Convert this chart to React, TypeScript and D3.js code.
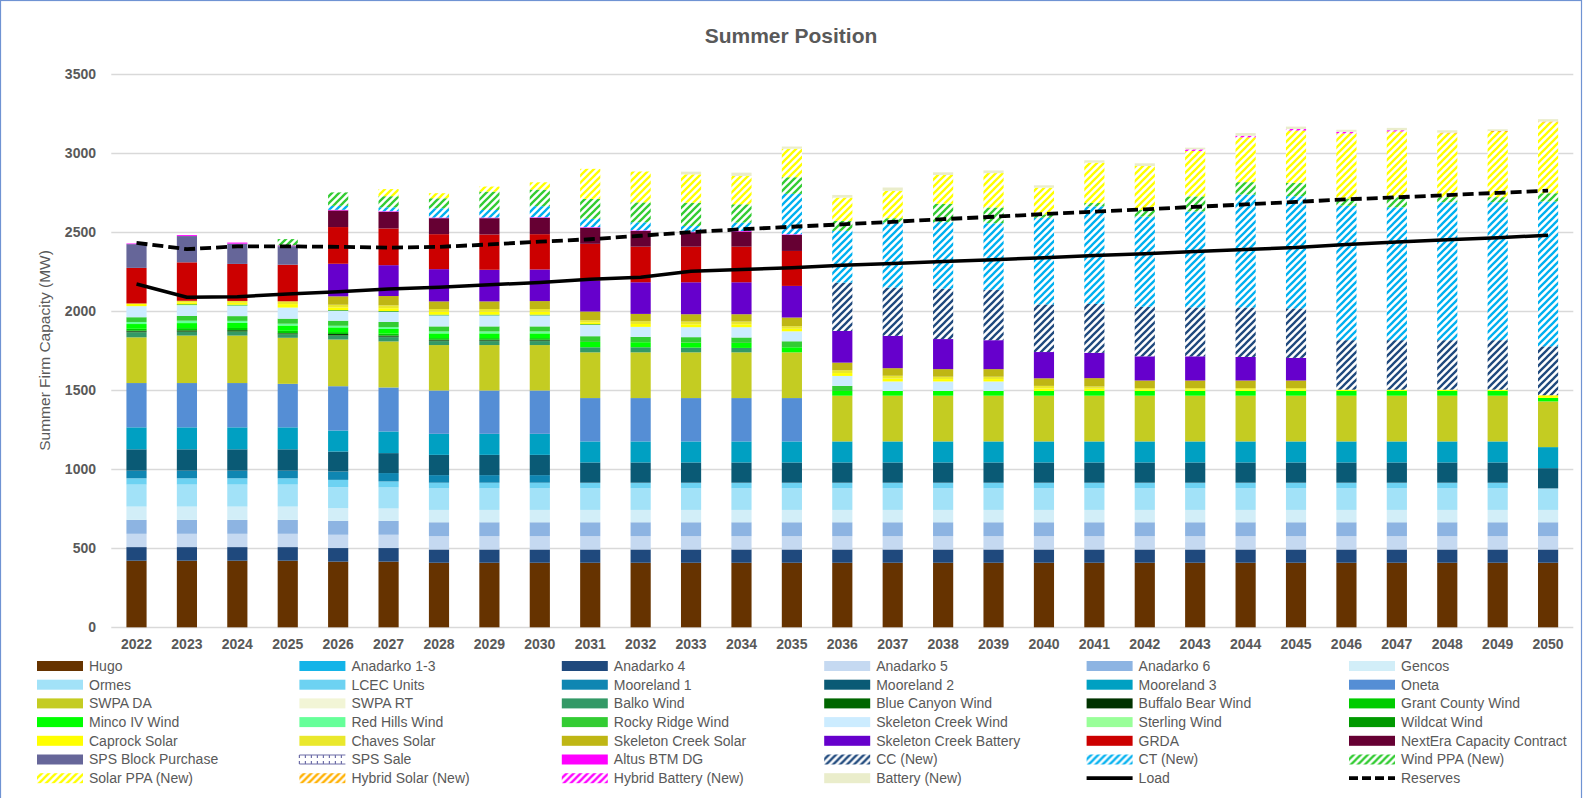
import React, { useEffect, useRef } from "react";
import * as d3 from "d3";

const years = [
  2022, 2023, 2024, 2025, 2026, 2027, 2028, 2029, 2030, 2031, 2032, 2033, 2034, 2035, 2036,
  2037, 2038, 2039, 2040, 2041, 2042, 2043, 2044, 2045, 2046, 2047, 2048, 2049, 2050,
];
const yTicks = [0, 500, 1000, 1500, 2000, 2500, 3000, 3500];

const zeros = years.map(() => 0);

const hugo = [421, 421, 421, 421, 415, 415, 408, 408, 408, 408, 408, 408, 408, 408, 408, 408, 408, 408, 408, 408, 408, 408, 408, 408, 408, 408, 408, 408, 408];
const anadarko13 = zeros;
const anadarko4 = [86, 86, 86, 86, 86, 86, 84, 84, 84, 84, 84, 84, 84, 84, 84, 84, 84, 84, 84, 84, 84, 84, 84, 84, 84, 84, 84, 84, 84];
const anadarko5 = [84, 84, 84, 84, 84, 84, 84, 84, 84, 84, 84, 84, 84, 84, 84, 84, 84, 84, 84, 84, 84, 84, 84, 84, 84, 84, 84, 84, 84];
const anadarko6 = [88, 88, 88, 88, 88, 88, 88, 88, 88, 88, 88, 88, 88, 88, 88, 88, 88, 88, 88, 88, 88, 88, 88, 88, 88, 88, 88, 88, 88];
const gencos = [84, 84, 84, 84, 80, 78, 78, 78, 78, 78, 78, 78, 78, 78, 78, 78, 78, 78, 78, 78, 78, 78, 78, 78, 78, 78, 78, 78, 78];
const ormes = [139, 139, 139, 139, 133, 133, 136, 136, 136, 136, 136, 136, 136, 136, 136, 136, 136, 136, 136, 136, 136, 136, 136, 136, 136, 136, 136, 136, 136];
const lcec = [40, 40, 40, 40, 46, 38, 36, 36, 36, 36, 36, 36, 36, 36, 36, 36, 36, 36, 36, 36, 36, 36, 36, 36, 36, 36, 36, 36, 0];
const mooreland1 = [48, 48, 48, 48, 53, 53, 48, 48, 48, 0, 0, 0, 0, 0, 0, 0, 0, 0, 0, 0, 0, 0, 0, 0, 0, 0, 0, 0, 0];
const mooreland2 = [135, 135, 135, 135, 126, 126, 128, 128, 128, 128, 128, 128, 128, 128, 128, 128, 128, 128, 128, 128, 128, 128, 128, 128, 128, 128, 128, 128, 128];
const mooreland3 = [139, 139, 139, 139, 133, 137, 133, 133, 133, 133, 133, 133, 133, 133, 133, 133, 133, 133, 133, 133, 133, 133, 133, 133, 133, 133, 133, 133, 133];
const oneta = [280, 280, 280, 275, 280, 278, 274, 274, 274, 274, 274, 274, 274, 274, 0, 0, 0, 0, 0, 0, 0, 0, 0, 0, 0, 0, 0, 0, 0];
const swpaDA = [289, 300, 300, 291, 295, 291, 287, 287, 287, 289, 289, 289, 289, 289, 289, 289, 289, 289, 289, 289, 289, 289, 289, 289, 289, 289, 289, 289, 289];
const swpaRT = zeros;
const balko = [32, 23, 25, 21, 25, 27, 25, 25, 25, 32, 32, 30, 28, 0, 0, 0, 0, 0, 0, 0, 0, 0, 0, 0, 0, 0, 0, 0, 0];
const blueCanyon = [4, 4, 4, 4, 4, 4, 4, 4, 4, 0, 0, 0, 0, 0, 0, 0, 0, 0, 0, 0, 0, 0, 0, 0, 0, 0, 0, 0, 0];
const buffaloBear = [6, 6, 5, 4, 6, 6, 5, 5, 5, 0, 0, 0, 0, 0, 0, 0, 0, 0, 0, 0, 0, 0, 0, 0, 0, 0, 0, 0, 0];
const grantCounty = [12, 14, 14, 15, 12, 12, 10, 10, 10, 0, 0, 0, 0, 0, 0, 0, 0, 0, 0, 0, 0, 0, 0, 0, 0, 0, 0, 0, 0];
const minco = [30, 32, 32, 34, 30, 30, 30, 30, 30, 34, 32, 32, 32, 32, 30, 30, 30, 30, 30, 30, 30, 30, 30, 30, 30, 30, 30, 30, 22];
const redHills = [13, 15, 13, 11, 10, 12, 12, 12, 12, 0, 0, 0, 0, 0, 0, 0, 0, 0, 0, 0, 0, 0, 0, 0, 0, 0, 0, 0, 0];
const rockyRidge = [30, 30, 30, 32, 32, 32, 32, 32, 32, 36, 34, 34, 34, 38, 32, 0, 0, 0, 0, 0, 0, 0, 0, 0, 0, 0, 0, 0, 0];
const skeletonWind = [70, 67, 65, 70, 63, 65, 70, 70, 70, 72, 63, 63, 65, 63, 63, 60, 60, 60, 0, 0, 0, 0, 0, 0, 0, 0, 0, 0, 0];
const sterling = [0, 3, 3, 0, 0, 0, 0, 0, 0, 0, 0, 0, 0, 0, 0, 0, 0, 0, 0, 0, 0, 0, 0, 0, 0, 0, 0, 0, 0];
const wildcat = [0, 4, 4, 0, 4, 4, 4, 4, 4, 4, 0, 0, 0, 0, 0, 0, 0, 0, 0, 0, 0, 0, 0, 0, 0, 0, 0, 0, 0];
const caprock = [17, 12, 12, 22, 17, 18, 18, 18, 18, 12, 18, 18, 18, 16, 18, 18, 15, 15, 16, 14, 10, 10, 10, 10, 8, 8, 8, 8, 17];
const chaves = [0, 10, 12, 18, 17, 18, 18, 18, 18, 13, 18, 18, 18, 16, 18, 18, 15, 15, 16, 14, 8, 8, 8, 8, 0, 0, 0, 0, 0];
const skeletonSolar = [0, 0, 0, 0, 53, 59, 48, 48, 50, 55, 46, 46, 46, 55, 48, 48, 48, 48, 48, 53, 48, 48, 48, 48, 0, 0, 0, 0, 0];
const skeletonBattery = [0, 0, 0, 0, 206, 195, 204, 200, 200, 196, 200, 202, 202, 200, 200, 204, 190, 183, 166, 160, 153, 153, 149, 143, 0, 0, 0, 0, 0];
const grda = [225, 243, 234, 231, 232, 232, 221, 223, 223, 232, 225, 225, 225, 221, 0, 0, 0, 0, 0, 0, 0, 0, 0, 0, 0, 0, 0, 0, 0];
const nextEra = [0, 0, 0, 0, 105, 105, 101, 103, 103, 101, 99, 91, 95, 101, 0, 0, 0, 0, 0, 0, 0, 0, 0, 0, 0, 0, 0, 0, 0];
const spsBlock = [150, 166, 128, 117, 0, 0, 0, 0, 0, 0, 0, 0, 0, 0, 0, 0, 0, 0, 0, 0, 0, 0, 0, 0, 0, 0, 0, 0, 0];
const spsSale = zeros;
const altus = [4, 6, 7, 5, 4, 4, 4, 4, 4, 4, 4, 4, 4, 4, 0, 0, 0, 0, 0, 0, 0, 0, 0, 0, 0, 0, 0, 0, 0];
const ccNew = [0, 0, 0, 0, 0, 0, 0, 0, 0, 0, 0, 0, 0, 0, 306, 306, 318, 318, 301, 309, 313, 309, 313, 313, 313, 313, 313, 313, 309];
const ctNew = [0, 0, 0, 0, 25, 25, 59, 48, 70, 53, 51, 36, 53, 256, 327, 411, 421, 421, 548, 617, 570, 606, 713, 709, 850, 840, 872, 872, 915];
const windPPA = [0, 0, 0, 40, 85, 70, 63, 116, 105, 126, 126, 147, 116, 105, 63, 27, 116, 100, 21, 21, 43, 96, 79, 85, 45, 64, 32, 32, 53];
const solarPPA = [0, 0, 0, 0, 0, 45, 32, 32, 46, 190, 195, 179, 179, 180, 147, 173, 182, 217, 169, 255, 277, 287, 283, 330, 412, 415, 402, 412, 447];
const hybridSolar = [0, 0, 0, 0, 0, 0, 0, 0, 0, 0, 0, 0, 0, 0, 0, 0, 0, 0, 0, 0, 0, 0, 0, 0, 0, 0, 6, 6, 6];
const hybridBattery = [0, 0, 0, 0, 0, 0, 0, 0, 0, 0, 0, 0, 0, 0, 0, 0, 0, 0, 0, 0, 0, 10, 10, 10, 10, 8, 0, 0, 0];
const batteryNew = [0, 0, 0, 0, 0, 0, 0, 0, 0, 0, 0, 17, 21, 14, 17, 21, 17, 17, 15, 15, 17, 11, 17, 15, 13, 15, 15, 11, 15];

const load = [2170, 2086, 2090, 2107, 2121, 2138, 2150, 2165, 2180, 2200, 2212, 2250, 2262, 2273, 2288, 2300, 2312, 2324, 2336, 2350, 2362, 2375, 2388, 2400, 2420, 2435, 2450, 2463, 2478];
const reserves = [2430, 2390, 2408, 2408, 2405, 2400, 2405, 2420, 2438, 2453, 2475, 2498, 2516, 2532, 2547, 2563, 2580, 2595, 2612, 2627, 2642, 2658, 2673, 2689, 2705, 2718, 2732, 2746, 2760];

interface ISeries {
  name: string;
  values: number[];
  color: string;
  kind?: "hatch" | "brick";
}

const series: ISeries[] = [
  { name: "Hugo", values: hugo, color: "#663300" },
  { name: "Anadarko 1-3", values: anadarko13, color: "#14B4E8" },
  { name: "Anadarko 4", values: anadarko4, color: "#1F497D" },
  { name: "Anadarko 5", values: anadarko5, color: "#C5D9F1" },
  { name: "Anadarko 6", values: anadarko6, color: "#8DB4E2" },
  { name: "Gencos", values: gencos, color: "#D2EEF8" },
  { name: "Ormes", values: ormes, color: "#A2E2F8" },
  { name: "LCEC Units", values: lcec, color: "#6DD2F2" },
  { name: "Mooreland 1", values: mooreland1, color: "#0F86B2" },
  { name: "Mooreland 2", values: mooreland2, color: "#0A5A75" },
  { name: "Mooreland 3", values: mooreland3, color: "#00A0C2" },
  { name: "Oneta", values: oneta, color: "#558ED5" },
  { name: "SWPA DA", values: swpaDA, color: "#C4CC22" },
  { name: "SWPA RT", values: swpaRT, color: "#F2F5D6" },
  { name: "Balko Wind", values: balko, color: "#339966" },
  { name: "Blue Canyon Wind", values: blueCanyon, color: "#006600" },
  { name: "Buffalo Bear Wind", values: buffaloBear, color: "#003300" },
  { name: "Grant County Wind", values: grantCounty, color: "#00CC00" },
  { name: "Minco IV Wind", values: minco, color: "#00FF00" },
  { name: "Red Hills Wind", values: redHills, color: "#66FF99" },
  { name: "Rocky Ridge Wind", values: rockyRidge, color: "#33CC33" },
  { name: "Skeleton Creek Wind", values: skeletonWind, color: "#CCECFF" },
  { name: "Sterling Wind", values: sterling, color: "#99FF99" },
  { name: "Wildcat Wind", values: wildcat, color: "#009900" },
  { name: "Caprock Solar", values: caprock, color: "#FFFF00" },
  { name: "Chaves Solar", values: chaves, color: "#EAE82C" },
  { name: "Skeleton Creek Solar", values: skeletonSolar, color: "#BFB614" },
  { name: "Skeleton Creek Battery", values: skeletonBattery, color: "#6600CC" },
  { name: "GRDA", values: grda, color: "#CC0000" },
  { name: "NextEra Capacity Contract", values: nextEra, color: "#660033" },
  { name: "SPS Block Purchase", values: spsBlock, color: "#666699" },
  { name: "SPS Sale", values: spsSale, color: "#6E6EA8", kind: "brick" },
  { name: "Altus BTM DG", values: altus, color: "#FF00FF" },
  { name: "CC (New)", values: ccNew, color: "#1F497D", kind: "hatch" },
  { name: "CT (New)", values: ctNew, color: "#00B0F0", kind: "hatch" },
  { name: "Wind PPA (New)", values: windPPA, color: "#33CC33", kind: "hatch" },
  { name: "Solar PPA (New)", values: solarPPA, color: "#FFFF00", kind: "hatch" },
  { name: "Hybrid Solar (New)", values: hybridSolar, color: "#FFB000", kind: "hatch" },
  { name: "Hybrid Battery (New)", values: hybridBattery, color: "#FF00FF", kind: "hatch" },
  { name: "Battery (New)", values: batteryNew, color: "#EAEDCB" },
];

const W = 1583;
const H = 798;
const plot = { left: 111.3, right: 1573.3, top: 73.6, bottom: 627.3 };
const font = "'Liberation Sans', Arial, sans-serif";
const grey = "#595959";

export default function App(): JSX.Element {
  const ref = useRef<SVGSVGElement>(null);

  useEffect(() => {
    document.body.style.margin = "0";
    if (!ref.current) return;
    const svg = d3.select(ref.current);
    svg.selectAll("*").remove();

    const defs = svg.append("defs");
    series.forEach((s, i) => {
      if (s.kind !== "hatch") return;
      const p = defs
        .append("pattern")
        .attr("id", `hatch-${i}`)
        .attr("patternUnits", "userSpaceOnUse")
        .attr("width", 7)
        .attr("height", 7);
      p.append("rect").attr("width", 7).attr("height", 7).attr("fill", "#fff");
      p.append("path")
        .attr("d", "M-1,1 l2,-2 M0,7 l7,-7 M6,8 l2,-2")
        .attr("stroke", s.color)
        .attr("stroke-width", 2.3);
    });
    const fillOf = (s: ISeries, i: number) => (s.kind === "hatch" ? `url(#hatch-${i})` : s.color);

    const x = d3
      .scaleBand<string>()
      .domain(years.map(String))
      .range([plot.left, plot.right])
      .paddingInner(0.6)
      .paddingOuter(0.3);
    const y = d3.scaleLinear().domain([0, 3500]).range([plot.bottom, plot.top]);

    // frame
    svg.append("rect").attr("x", 0.5).attr("y", 0.5).attr("width", W - 2).attr("height", H + 20)
      .attr("fill", "#fff").attr("stroke", "#6F93D3").attr("stroke-width", 1.2);

    // title
    svg.append("text").attr("x", 791).attr("y", 43).attr("text-anchor", "middle")
      .attr("font-family", font).attr("font-weight", "bold").attr("font-size", 21)
      .attr("fill", grey).text("Summer Position");

    // grid + y labels
    const gy = svg.append("g");
    gy.selectAll("line").data(yTicks).join("line")
      .attr("x1", plot.left).attr("x2", plot.right)
      .attr("y1", (d) => Math.round(y(d)) + 0.5).attr("y2", (d) => Math.round(y(d)) + 0.5)
      .attr("stroke", "#D9D9D9").attr("stroke-width", 1.3);
    gy.selectAll("text").data(yTicks).join("text")
      .attr("x", 96).attr("y", (d) => y(d)).attr("dy", "0.35em").attr("text-anchor", "end")
      .attr("font-family", font).attr("font-weight", "bold").attr("font-size", 14)
      .attr("fill", grey).text((d) => String(d));

    svg.append("text")
      .attr("transform", `translate(50,${(plot.top + plot.bottom) / 2}) rotate(-90)`)
      .attr("text-anchor", "middle").attr("font-family", font).attr("font-size", 15.5)
      .attr("fill", grey).text("Summer Firm Capacity (MW)");

    // x labels
    svg.append("g").selectAll("text").data(years).join("text")
      .attr("x", (d) => (x(String(d)) as number) + x.bandwidth() / 2)
      .attr("y", 649).attr("text-anchor", "middle")
      .attr("font-family", font).attr("font-weight", "bold").attr("font-size", 14)
      .attr("fill", grey).text((d) => String(d));

    // stacked bars
    const rows = years.map((yr, i) => {
      const row: Record<string, number> = { year: yr };
      series.forEach((s) => (row[s.name] = s.values[i]));
      return row;
    });
    const stacked = d3.stack<Record<string, number>>().keys(series.map((s) => s.name))(rows);

    svg.append("g").selectAll("g").data(stacked).join("g")
      .attr("fill", (d, i) => fillOf(series[i], i))
      .selectAll("rect")
      .data((d) => d.filter((p) => p[1] - p[0] > 0))
      .join("rect")
      .attr("x", (p) => x(String(p.data.year)) as number)
      .attr("width", x.bandwidth())
      .attr("y", (p) => y(p[1]))
      .attr("height", (p) => y(p[0]) - y(p[1]));

    // lines
    const line = d3.line<number>()
      .x((d, i) => (x(String(years[i])) as number) + x.bandwidth() / 2)
      .y((d) => y(d));
    svg.append("path").attr("d", line(load) as string).attr("fill", "none")
      .attr("stroke", "#000").attr("stroke-width", 3.5).attr("stroke-linejoin", "round");
    svg.append("path").attr("d", line(reserves) as string).attr("fill", "none")
      .attr("stroke", "#000").attr("stroke-width", 3.8).attr("stroke-dasharray", "11,5");

    // legend
    const legendItems = [
      ...series.map((s, i) => ({ name: s.name, type: "box", s, i })),
      { name: "Load", type: "load" },
      { name: "Reserves", type: "reserves" },
    ] as any[];
    const lg = svg.append("g").selectAll("g").data(legendItems).join("g")
      .attr("transform", (d, i) => `translate(${37 + (i % 6) * 262.4},${666 + Math.floor(i / 6) * 18.7})`);

    lg.each(function (d: any) {
      const g = d3.select(this);
      if (d.type === "box") {
        if (d.s.kind === "brick") {
          g.append("rect").attr("x", 0).attr("y", -5).attr("width", 46).attr("height", 10).attr("fill", "#fff");
          g.append("path")
            .attr("d", "M0,-4.5 H46 M0,4.5 H46 " + d3.range(0, 47, 6).map((v) => `M${v},-4.5 V-1.5 M${v},1.5 V4.5`).join(" "))
            .attr("stroke", d.s.color).attr("stroke-width", 1.2).attr("fill", "none");
        } else {
          g.append("rect").attr("x", 0).attr("y", -5).attr("width", 46).attr("height", 10)
            .attr("fill", fillOf(d.s, d.i));
        }
      } else {
        g.append("line").attr("x1", 0).attr("x2", 46).attr("y1", 0).attr("y2", 0)
          .attr("stroke", "#000").attr("stroke-width", 3.8)
          .attr("stroke-dasharray", d.type === "reserves" ? "9,4" : null);
      }
      g.append("text").attr("x", 52).attr("y", 0).attr("dy", "0.35em")
        .attr("font-family", font).attr("font-size", 14).attr("fill", grey).text(d.name);
    });
  }, []);

  return (
    <svg
      ref={ref}
      width={W}
      height={H}
      style={{ position: "absolute", left: 0, top: 0, display: "block" }}
    />
  );
}
